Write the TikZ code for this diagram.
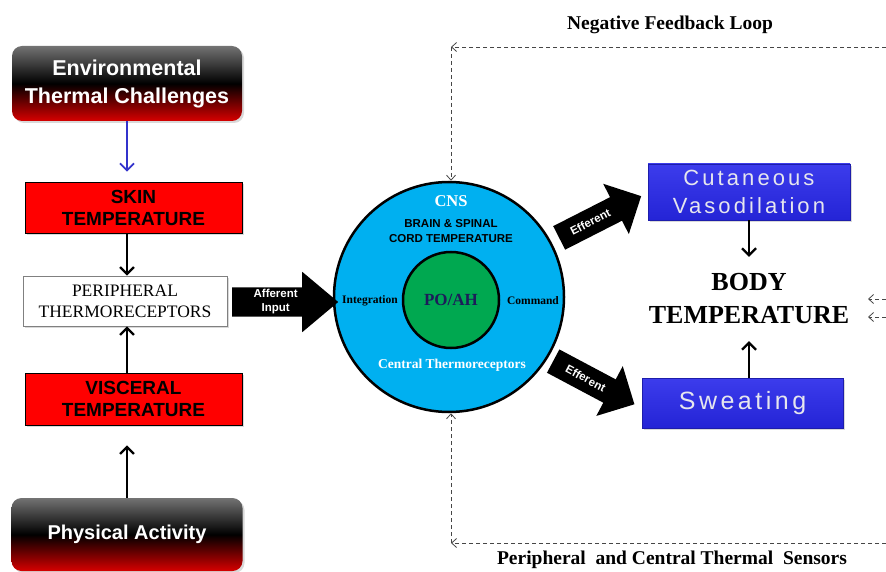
\documentclass[tikz,border=0pt]{standalone}
\usepackage{fontspec}
\setmainfont{Liberation Serif}
\setsansfont{Liberation Sans}
\newfontfamily\spsans[LetterSpace=14]{Liberation Sans}
\usetikzlibrary{arrows.meta,shapes.arrows,calc,shadows}
\definecolor{cnsblue}{RGB}{0,176,240}
\definecolor{poagreen}{RGB}{0,168,80}
\definecolor{boxblue}{RGB}{36,36,214}
\definecolor{boxbluetop}{RGB}{60,60,236}
\definecolor{navytxt}{RGB}{28,28,90}
\definecolor{arrowblue}{RGB}{51,51,204}
\definecolor{envred}{RGB}{215,0,0}
\definecolor{paletxt}{RGB}{230,230,238}
\definecolor{dashgray}{RGB}{70,70,70}
\begin{document}
\begin{tikzpicture}[x=1pt,y=-1pt,
  shade/.style={drop shadow={opacity=0.3,shadow xshift=2pt,shadow yshift=-2pt}},
  envbox/.style={rounded corners=10pt, top color=black!55, bottom color=envred, middle color=black,
    text=white, align=center, inner sep=0pt, shade,
    font=\sffamily\bfseries\fontsize{21.5}{28}\selectfont},
  redbox/.style={draw=black, line width=0.8pt, fill=red, align=center, inner sep=0pt, shade,
    font=\sffamily\bfseries\fontsize{19}{22}\selectfont},
  whitebox/.style={draw=black!50, line width=0.8pt, fill=white, align=center, inner sep=0pt, shade,
    font=\rmfamily\fontsize{17.5}{21}\selectfont},
  bluebox/.style={draw=boxblue!80!black, line width=0.6pt, top color=boxbluetop, bottom color=boxblue,
    text=paletxt, align=center, inner sep=0pt, shade},
  arr/.style={line width=2.2pt, -{Straight Barb[length=7pt,width=14pt]}},
  fb/.style={draw=dashgray, line width=0.8pt, dash pattern=on 4pt off 3pt,
    -{Straight Barb[length=5pt,width=9pt]}},
  blockarrow/.style={single arrow, fill=black, inner xsep=0pt, anchor=tail},
  arrtext/.style={text=white, align=center, inner sep=0pt,
    font=\sffamily\bfseries\fontsize{11.5}{14}\selectfont},
  lbl/.style={font=\rmfamily\bfseries\fontsize{19.5}{22}\selectfont, inner sep=0pt}
]
\useasboundingbox (0,0) rectangle (886,572);

% left column
\node[envbox, minimum width=230pt, minimum height=75pt] (env) at (127,83.5)
  {Environmental\\Thermal Challenges};
\node[redbox, minimum width=217pt, minimum height=51pt] (skin) at (133.5,207.5)
  {SKIN\\TEMPERATURE};
\node[whitebox, minimum width=204pt, minimum height=50pt] (periph) at (125,301)
  {PERIPHERAL\\THERMORECEPTORS};
\node[redbox, minimum width=217pt, minimum height=52pt] (visc) at (133.5,399)
  {VISCERAL\\TEMPERATURE};
\node[envbox, minimum width=231pt, minimum height=73pt, font=\sffamily\bfseries\fontsize{20}{28}\selectfont] (phys) at (127,534.5)
  {Physical Activity};

\draw[arr, arrowblue, line width=1.8pt, shorten >=10pt] (env.south) -- (env.south |- skin.north);
\draw[arr] (skin.south -| env.south) -- (periph.north -| env.south);
\draw[arr] (visc.north -| env.south) -- (periph.south -| env.south);
\draw[arr, shorten >=20pt] (phys.north) -- (phys.north |- visc.south);

% CNS
\node[circle, draw=black, line width=2.5pt, fill=cnsblue, minimum size=230pt, inner sep=0pt] (cns) at (449,297) {};
\node[circle, draw=black, line width=2.5pt, fill=poagreen, minimum size=96pt, inner sep=0pt,
  text=navytxt, font=\rmfamily\bfseries\fontsize{17}{20}\selectfont] (poah) at (451,300) {PO/AH};
\node[text=white, font=\rmfamily\bfseries\fontsize{16.5}{20}\selectfont, inner sep=0pt] (cnslbl) at (451,201) {CNS};
\node[align=center, font=\sffamily\bfseries\fontsize{11.5}{15}\selectfont, inner sep=0pt] (brain) at (451,231.5)
  {BRAIN \& SPINAL\\CORD TEMPERATURE};
\node[font=\rmfamily\bfseries\fontsize{11.5}{14}\selectfont, inner sep=0pt] (integ) at (370,301) {Integration};
\node[font=\rmfamily\bfseries\fontsize{11.5}{14}\selectfont, inner sep=0pt] (cmd) at (533,301) {Command};
\node[text=white, font=\rmfamily\bfseries\fontsize{13.5}{16}\selectfont, inner sep=0pt] (central) at (452,365) {Central Thermoreceptors};

% block arrows
\node[blockarrow, minimum height=106pt, inner ysep=14.5pt, single arrow head extend=15.5pt,
  single arrow tip angle=80] (aff) at (232,302) {};
\node[arrtext] (afftxt) at ($(aff.tail)!0.41!(aff.tip)$) {Afferent\\Input};

\node[blockarrow, minimum height=92pt, inner ysep=13pt, single arrow head extend=15pt,
  single arrow tip angle=90, rotate=27] (eff1) at (559,238) {};
\node[arrtext, rotate=27] (eff1txt) at ($(eff1.tail)!0.38!(eff1.tip)$) {Efferent};
\node[blockarrow, minimum height=92pt, inner ysep=13pt, single arrow head extend=15pt,
  single arrow tip angle=90, rotate=-28] (eff2) at (553,361) {};
\node[arrtext, rotate=-28] (eff2txt) at ($(eff2.tail)!0.4!(eff2.tip)$) {Efferent};

% right column
\node[bluebox, minimum width=202pt, minimum height=56pt,
  font={\spsans\fontsize{22}{28}\selectfont}] (cut) at (749,192) {Cutaneous\\Vasodilation};
\node[bluebox, minimum width=201pt, minimum height=50pt,
  font={\spsans\fontsize{25}{28}\selectfont}] (sweat) at (742.5,403) {Sweating};
\node[align=center, font=\rmfamily\bfseries\fontsize{26}{33}\selectfont, inner sep=0pt,
  minimum height=84pt] (body) at (749,299) {BODY\\TEMPERATURE};
\draw[arr] (cut.south -| body.center) -- (body.north);
\draw[arr] (sweat.north -| body.center) -- (body.south);

% feedback loop
\node[lbl] (neg) at (670,25) {Negative Feedback Loop};
\node[lbl] (sens) at (672,560) {Peripheral\ \ and Central Thermal\ \ Sensors};
\coordinate (tr) at (886,47);
\coordinate (tl) at (451,47);
\coordinate (br) at (886,543);
\coordinate (bl) at (451,543);
\draw[fb] (tr) -- (tl);
\draw[fb] (tl) -- (tl |- cns.north);
\draw[fb] (br) -- (bl);
\draw[fb] (bl) -- (bl |- cns.south);
\coordinate (r1s) at (886,299);
\coordinate (r1e) at (868,299);
\coordinate (r2s) at (886,317);
\coordinate (r2e) at (868,317);
\draw[fb] (r1s) -- (r1e);
\draw[fb] (r2s) -- (r2e);
\end{tikzpicture}
\end{document}
